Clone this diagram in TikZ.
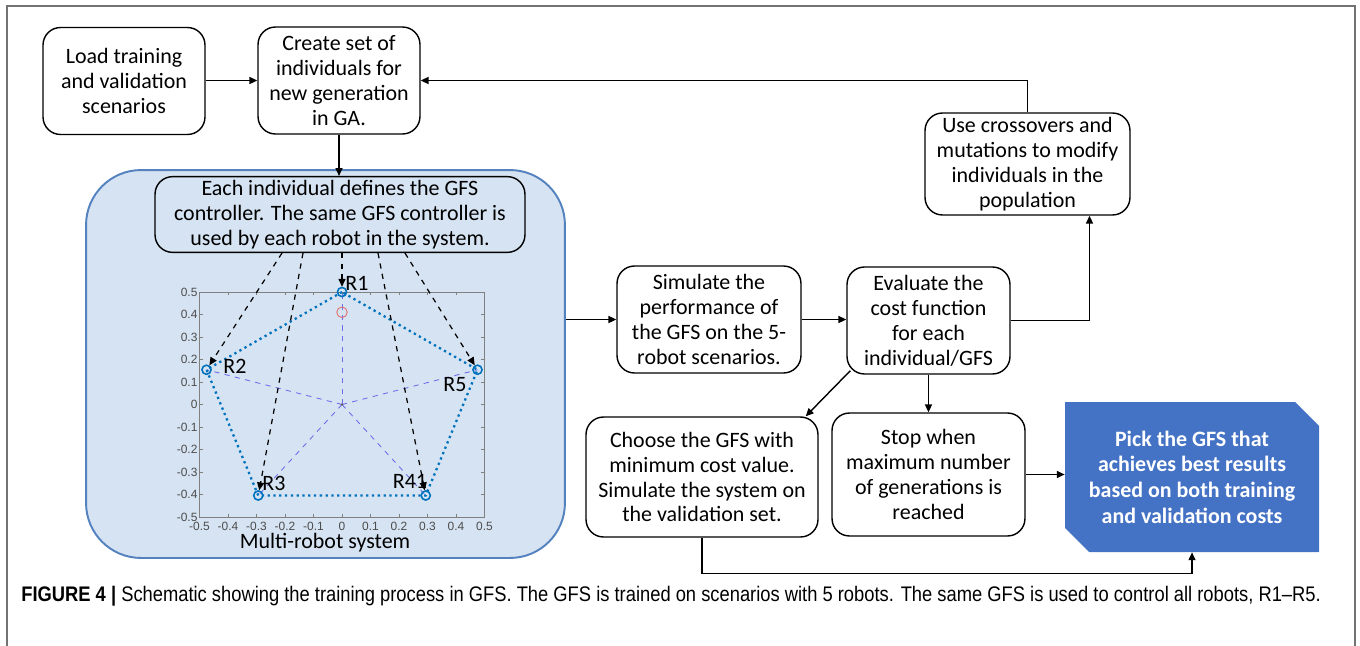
\documentclass[tikz,border=0pt]{standalone}
\usepackage{fontspec}
\setmainfont{Carlito}
\newfontfamily\capfont[FakeStretch=0.87]{Liberation Sans}
\newfontfamily\tickfont{Liberation Sans}
\usepackage{tikz}
\usetikzlibrary{arrows.meta,calc}
\definecolor{regionfill}{RGB}{214,227,242}
\definecolor{regionline}{RGB}{84,130,190}
\definecolor{pickblue}{RGB}{68,114,196}
\definecolor{matblue}{RGB}{0,114,189}
\definecolor{spokeblue}{RGB}{110,110,235}
\definecolor{ringred}{RGB}{225,110,110}
\tikzstyle{box}=[draw,rounded corners=0.35cm,align=center,inner sep=2pt,line width=0.8pt,font=\fontsize{12.5}{14.2}\selectfont]
\tikzstyle{region}=[draw=regionline,fill=regionfill,line width=1.1pt,rounded corners=1.1cm]
\tikzstyle{flow}=[->,line width=0.8pt]
\tikzstyle{feed}=[->,dashed,line width=0.7pt,shorten >=3pt]
\tikzstyle{robotlabel}=[font=\fontsize{12.5}{14}\selectfont,inner sep=0pt]
\tikzstyle{ticklabel}=[font=\tickfont\fontsize{6.8}{8}\selectfont,text=black!70,inner sep=1pt]

\begin{document}
\begin{tikzpicture}[x=0.02cm,y=-0.02cm,>={Triangle[length=4.5pt,width=4pt]}]
  \useasboundingbox (0,0) rectangle (1360,646);
  \draw[black!55,line width=0.6pt] (7,646) -- (7,6) -- (1355,6) -- (1355,646);

  \node[region,minimum width=9.58cm,minimum height=7.76cm] (sys) at (325.5,364) {};

  \node[box,minimum width=3.24cm,minimum height=2.14cm] (load) at (124,81) {Load training\\and validation\\scenarios};
  \node[box,minimum width=3.24cm,minimum height=2.14cm] (create) at (339,80.5) {Create set of\\individuals for\\new generation\\in GA.};
  \node[box,minimum width=7.4cm,minimum height=1.5cm] (ind) at (340,214.5) {Each individual defines the GFS\\controller. The same GFS controller is\\used by each robot in the system.};
  \node[box,minimum width=4.1cm,minimum height=2.04cm] (cross) at (1027.5,164) {Use crossovers and\\mutations to modify\\individuals in the\\population};
  \node[box,minimum width=3.68cm,minimum height=2.14cm] (sim) at (709,319.5) {Simulate the\\performance of\\the GFS on the 5-\\robot scenarios.};
  \node[box,minimum width=3.26cm,minimum height=2.14cm] (eval) at (928.5,320.5) {Evaluate the\\cost function\\for each\\individual/GFS};
  \node[box,minimum width=4.64cm,minimum height=2.4cm] (choose) at (702,477) {Choose the GFS with\\minimum cost value.\\Simulate the system on\\the validation set.};
  \node[box,minimum width=3.86cm,minimum height=2.46cm] (stop) at (928.5,474.5) {Stop when\\maximum number\\of generations is\\reached};

  \fill[pickblue] (1065,402) -- (1295,402) -- (1319,426) -- (1319,552) -- (1089,552) -- (1065,528) -- cycle;
  \node[align=center,text=white,font=\bfseries\fontsize{12.5}{14.6}\selectfont,minimum width=5.08cm,minimum height=3cm] (pick) at (1192,477) {Pick the GFS that\\achieves best results\\based on both training\\and validation costs};

  \begin{scope}[shift={(342,404.5)},x=5.7cm,y=4.5cm]
    \draw[black!50,line width=0.4pt] (-0.5,-0.5) rectangle (0.5,0.5);
    \foreach \t in {-0.5,-0.4,-0.3,-0.2,-0.1,0,0.1,0.2,0.3,0.4,0.5} {
      \draw[black!50,line width=0.4pt] (\t,-0.5) -- ++(0,0.014) (\t,0.5) -- ++(0,-0.014);
      \draw[black!50,line width=0.4pt] (-0.5,\t) -- ++(0.011,0) (0.5,\t) -- ++(-0.011,0);
      \node[ticklabel,anchor=north,yshift=-1.5pt] at (\t,-0.5) {\t};
      \node[ticklabel,anchor=east] at (-0.5,\t) {\t};
    }
    \foreach \k in {1,...,5}
      \coordinate (r\k) at ({90+72*(\k-1)}:0.5);
    \foreach \k in {1,...,5}
      \draw[spokeblue,dashed,line width=0.5pt] (0,0) -- (r\k);
    \draw[matblue,dotted,line width=1.3pt] (r1) -- (r2) -- (r3) -- (r4) -- (r5) -- cycle;
    \foreach \k in {1,...,5}
      \draw[matblue,line width=0.9pt] (r\k) circle (2.6pt);
    \draw[ringred,line width=0.5pt] (0,0.41) circle (3pt);
    \fill[black!60] (0,0) circle (0.8pt);
  \end{scope}

  \node[robotlabel] (lr1) at (357,283) {R1};
  \node[robotlabel] (lr2) at (235,366) {R2};
  \node[robotlabel] (lr3) at (274,483) {R3};
  \node[robotlabel] (lr4) at (410,481) {R41};
  \node[robotlabel] (lr5) at (455,385) {R5};
  \node[font=\fontsize{12.5}{14}\selectfont] (mrs) at (325,543) {Multi-robot system};

  \draw[feed] ($(ind.south)+(-58,0)$) -- (r2);
  \draw[feed] ($(ind.south)+(-37,0)$) -- (r3);
  \draw[feed] ($(ind.south)+(2,0)$) -- (r1);
  \draw[feed] ($(ind.south)+(38,0)$) -- (r4);
  \draw[feed] ($(ind.south)+(65,0)$) -- (r5);

  \draw[flow] (load.east |- create.west) -- (create.west);
  \draw[flow] (cross.north) |- (create.east);
  \draw[flow] (create.south) -- (create.south |- ind.north);
  \draw[flow] (sys.east |- sim.west) -- (sim.west);
  \draw[flow] (sim.east) -- (sim.east -| eval.west);
  \draw[flow] (eval.east) -| ($(cross.south)+(62,0)$);
  \draw[flow] ($(eval.south west)+(4,-4)$) -- ($(choose.north east)+(-13,0)$);
  \draw[flow] (eval.south) -- (eval.south |- stop.north);
  \draw[flow] (stop.east) -- (stop.east -| pick.west);
  \draw[flow] (choose.south) -- ++(0,36) -| (pick.south);

  \node[anchor=west,font=\capfont\fontsize{12}{14}\selectfont,inner sep=0pt] (cap) at (21,596) {\textbf{FIGURE 4 |} Schematic showing the training process in GFS. The GFS is trained on scenarios with 5 robots. The same GFS is used to control all robots, R1–R5.};
\end{tikzpicture}
\end{document}
